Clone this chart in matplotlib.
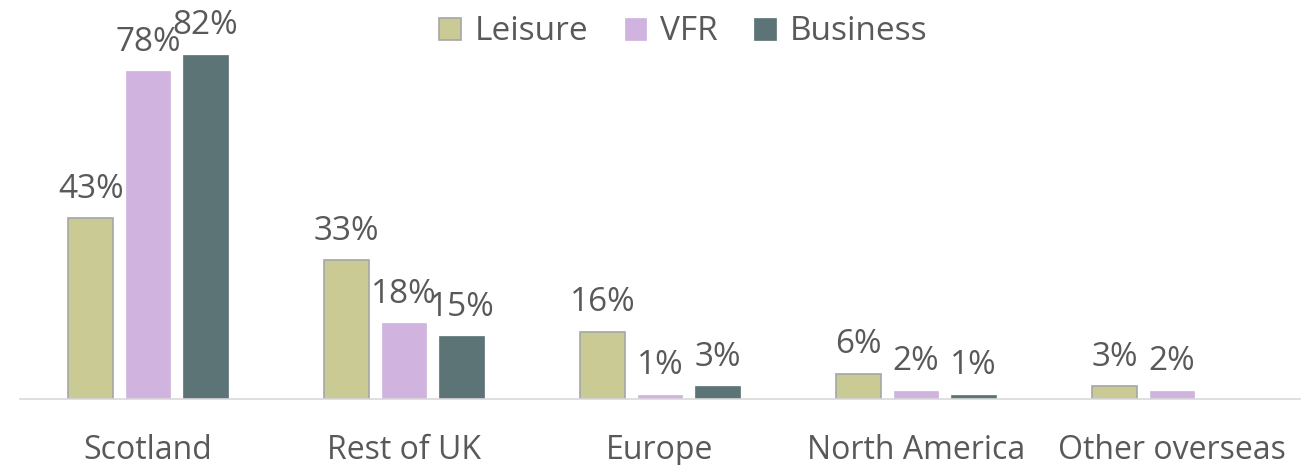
import matplotlib
matplotlib.use("Agg")
import matplotlib.pyplot as plt
import numpy as np

categories = ["Scotland", "Rest of UK", "Europe", "North America", "Other overseas"]
series_names = ["Leisure", "VFR", "Business"]
leisure = [43, 33, 16, 6, 3]
vfr = [78, 18, 1, 2, 2]
business = [82, 15, 3, 1, None]

colors = ["#C9CA94", "#D0B3DF", "#5C7476"]
edges = ["#A6A6A6", "#D0B3DF", "#5C7476"]
text_color = "#595959"

plt.rcParams['font.family'] = ['Open Sans', 'DejaVu Sans']

fig = plt.figure(figsize=(13.09, 4.65), dpi=100)
ax = fig.add_axes([20/1309, 66/465, 1280/1309, 399/465])

x = np.arange(len(categories))
width = 0.175
offset = 0.224
data = [leisure, vfr, business]
handles = []
for i, (name, vals) in enumerate(zip(series_names, data)):
    xs = [xi + (i - 1) * offset for xi, v in zip(x, vals) if v is not None]
    vs = [v for v in vals if v is not None]
    bars = ax.bar(xs, vs, width=width, color=colors[i], edgecolor=edges[i],
                  linewidth=1.2 if i == 0 else 0.5, label=name)
    handles.append(bars)
    for xi, v in zip(xs, vs):
        ax.annotate(f"{v}%", (xi, v), xytext=(0, 9), textcoords="offset points",
                    ha="center", va="bottom", fontsize=24, color=text_color)

ax.set_xlim(-0.5, len(categories) - 0.5)
ax.set_ylim(0, 95)
ax.set_xticks(x)
ax.set_xticklabels(categories, fontsize=23, color=text_color)
ax.tick_params(axis='x', length=0, pad=25)
ax.set_yticks([])
for s in ["top", "right", "left"]:
    ax.spines[s].set_visible(False)
ax.spines["bottom"].set_color("#D9D9D9")
ax.spines["bottom"].set_linewidth(1.2)

leg = fig.legend(handles=handles, loc="center", bbox_to_anchor=(0.522, 1 - 32/465),
                 ncol=3, frameon=False, fontsize=24, handlelength=0.64, handleheight=0.64,
                 handletextpad=0.42, columnspacing=1.1, borderpad=0)
for t in leg.get_texts():
    t.set_color(text_color)

fig.savefig("out.png", dpi=100)
